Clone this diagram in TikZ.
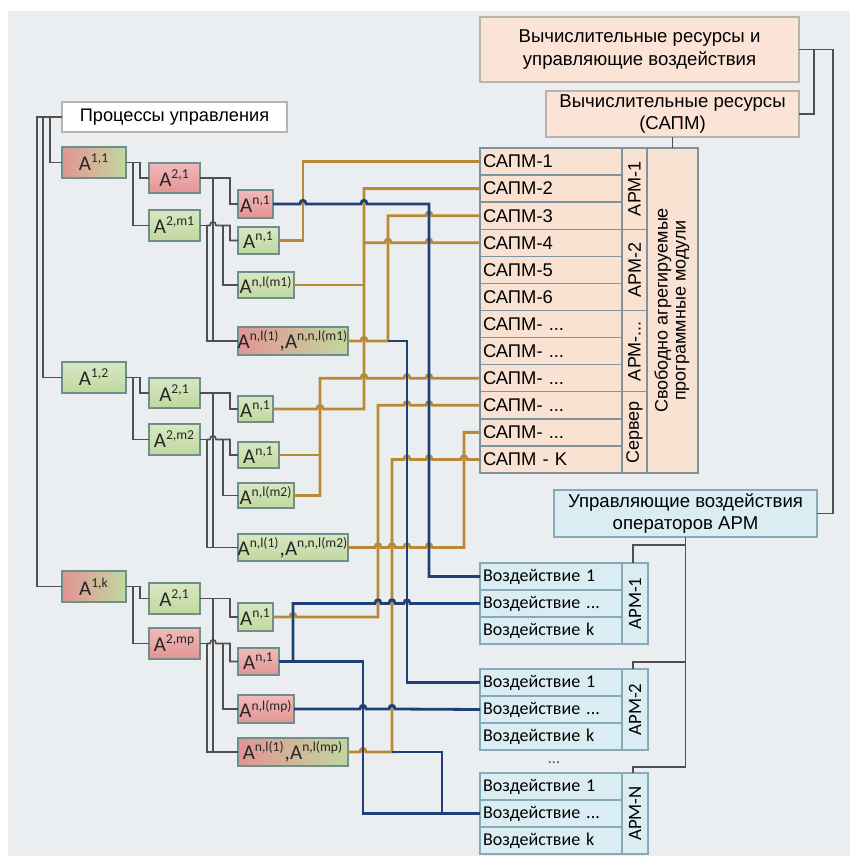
\documentclass[tikz,border=0pt]{standalone}
\usepackage{fontspec}
\setmainfont{Liberation Sans}
\newfontfamily\carfont{Carlito}
\usepackage{graphicx}
\usetikzlibrary{calc}
\definecolor{bg}{HTML}{EBEEF1}
\definecolor{peach}{HTML}{FBE4D5}
\definecolor{peachedge}{HTML}{B9B3AE}
\definecolor{cellfill}{HTML}{F9E2D2}
\definecolor{celledge}{HTML}{7F939C}
\definecolor{lblue}{HTML}{DAEDF3}
\definecolor{lblueedge}{HTML}{86AAB8}
\definecolor{aedge}{HTML}{6F8F8A}
\definecolor{grtop}{HTML}{D8E8C3}
\definecolor{grbot}{HTML}{C0D89E}
\definecolor{rdtop}{HTML}{F2BABA}
\definecolor{rdbot}{HTML}{E29494}
\definecolor{gold}{HTML}{B98A35}
\definecolor{navy}{HTML}{1F3F78}
\definecolor{wire}{HTML}{505050}

% small raised index after A
\newcommand\ix[1]{\textsuperscript{\fontsize{6.8}{7}\selectfont #1}}
% bridge over a vertical line #1 on a horizontal run at the height of #2
\newcommand\hop[2]{-- ($(#1 |- #2)+(-3,0)$) .. controls ($(#1 |- #2)+(-3,-5)$) and ($(#1 |- #2)+(3,-5)$) .. ($(#1 |- #2)+(3,0)$)}

\begin{document}
\begin{tikzpicture}[x=0.5pt,y=-0.5pt,
  every node/.style={inner sep=0pt,outer sep=0pt},
  hdr/.style={draw=peachedge,line width=0.9pt,fill=peach,align=center,font=\fontsize{9.3}{11.3}\selectfont},
  abox/.style={draw=aedge,line width=0.9pt,text=black!85,font=\carfont\fontsize{10.5}{11}\selectfont},
  gbox/.style={abox,top color=grtop,bottom color=grbot},
  rbox/.style={abox,top color=rdtop,bottom color=rdbot},
  mbox/.style={abox,left color=rdbot,right color=grbot},
  cell/.style={draw=celledge,line width=0.7pt,fill=cellfill,anchor=north west,text width=68pt,
    inner xsep=1.5pt,minimum height=13.54pt,font=\fontsize{9.2}{10}\selectfont},
  slab/.style={draw=celledge,line width=0.7pt,fill=cellfill,font=\fontsize{9}{10}\selectfont},
  vcell/.style={draw=lblueedge,line width=0.7pt,fill=lblue,anchor=north west,text width=68pt,
    inner xsep=1.5pt,minimum height=13.5pt,font=\carfont\fontsize{9}{10}\selectfont},
  vlab/.style={draw=lblueedge,line width=0.7pt,fill=lblue,minimum width=13pt,minimum height=40.5pt,
    font=\carfont\fontsize{9.4}{10}\selectfont},
  tree/.style={wire,line width=0.8pt},
  au/.style={gold,line width=1.4pt},
  cu/.style={navy,line width=1.4pt}]
\useasboundingbox (0,0) rectangle (850,856);
\fill[bg] (8,11) rectangle (850,856);

% process tree
\node[draw=peachedge,line width=0.9pt,fill=white,minimum width=112.5pt,minimum height=15pt,
  font=\fontsize{9.1}{11}\selectfont] (proc) at (174.5,117) {Процессы управления};

\node[mbox,minimum width=32pt,minimum height=15.5pt] (a11) at (94,162.5) {A\ix{1,1}};
\node[rbox,minimum width=25.5pt,minimum height=15pt] (a21) at (174.5,178) {A\ix{2,1}};
\node[gbox,minimum width=25.5pt,minimum height=15.5pt] (am1) at (174.5,225.5) {A\ix{2,m1}};
\node[rbox,minimum width=17.5pt,minimum height=14pt] (an1) at (255.5,204) {A\ix{n,1}};
\node[gbox,minimum width=20.5pt,minimum height=13.5pt] (ab1) at (258.5,240.5) {A\ix{n,1}};
\node[gbox,minimum width=28pt,minimum height=13pt] (al1) at (266,285) {A\ix{n,l(m1)}};
\node[mbox,minimum width=55pt,minimum height=14pt] (ac1) at (293,341) {A\ix{n,l(1)},A\ix{n,n,l(m1)}};

\node[gbox,minimum width=32pt,minimum height=15.5pt] (a12) at (94,377.5) {A\ix{1,2}};
\node[gbox,minimum width=25.5pt,minimum height=15pt] (a22) at (174.5,393) {A\ix{2,1}};
\node[gbox,minimum width=25.5pt,minimum height=15.5pt] (am2) at (174.5,439.5) {A\ix{2,m2}};
\node[gbox,minimum width=17.5pt,minimum height=13pt] (an2) at (255.5,409) {A\ix{n,1}};
\node[gbox,minimum width=20.5pt,minimum height=13pt] (ab2) at (258.5,455) {A\ix{n,1}};
\node[gbox,minimum width=28pt,minimum height=12.5pt] (al2) at (266,495.5) {A\ix{n,l(m2)}};
\node[gbox,minimum width=55pt,minimum height=13.5pt] (ac2) at (293,547.5) {A\ix{n,l(1)},A\ix{n,n,l(m2)}};

\node[mbox,minimum width=32pt,minimum height=15.5pt] (a13) at (94,586.5) {A\ix{1,k}};
\node[gbox,minimum width=25.5pt,minimum height=15.5pt] (a23) at (174.5,598.5) {A\ix{2,1}};
\node[rbox,minimum width=25.5pt,minimum height=15.5pt] (am3) at (174.5,643.5) {A\ix{2,mp}};
\node[gbox,minimum width=17.5pt,minimum height=14pt] (an3) at (255.5,617) {A\ix{n,1}};
\node[rbox,minimum width=20.5pt,minimum height=13.5pt] (ab3) at (258.5,661.5) {A\ix{n,1}};
\node[rbox,minimum width=28pt,minimum height=14pt] (al3) at (266,709) {A\ix{n,l(mp)}};
\node[mbox,minimum width=55pt,minimum height=14pt] (ac3) at (293,752) {A\ix{n,l(1)},A\ix{n,l(mp)}};

% vertical runs of the tree
\coordinate (tA) at (207,0);
\coordinate (tB) at (213,0);
\coordinate (tC) at (223,0);
\coordinate (tD) at (230,0);

\draw[tree] (proc.west) -- ++(-25,0) |- (a13.west);
\draw[tree] (proc.west) ++(-19,0) |- (a12.west);
\draw[tree] (proc.west) ++(-12,0) |- (a11.west);
\foreach \g in {1,2,3} {
  \draw[tree] (a1\g.east) -- ++(14,0) |- (a2\g.west);
  \draw[tree] (a1\g.east) ++(7,0) |- (am\g.west);
  \draw[tree] (a2\g.east) -- (a2\g.east -| tD) |- (an\g.west);
  \draw[tree] (a2\g.east -| tB) |- (ac\g.west);
  \draw[tree] (am\g.east) -- (am\g.east -| tA) |- (ac\g.west);
  \draw[tree] (am\g.east -| tA) \hop{tB}{am\g.east} -- (am\g.east -| tD) |- (ab\g.west);
  \draw[tree] (am\g.east -| tC) |- (al\g.west);
}

% resources
\node[hdr,minimum width=159.5pt,minimum height=32.5pt] (top) at (639.5,49.5)
  {Вычислительные ресурсы и\\управляющие воздействия};
\node[hdr,minimum width=126.5pt,minimum height=23pt] (sapm) at (672.5,114)
  {Вычислительные ресурсы\\(САПМ)};
\node[hdr,fill=lblue,draw=lblueedge,minimum width=131.5pt,minimum height=23.5pt] (upr) at (685.5,513.5)
  {Управляющие воздействия\\операторов АРМ};

\foreach \t [count=\i] in {САПМ-1,САПМ-2,САПМ-3,САПМ-4,САПМ-5,САПМ-6,САПМ- {...},САПМ- {...},
    САПМ- {...},САПМ- {...},САПМ- {...},САПМ - K}
  \node[cell] (s\i) at (480,{148+27.083*(\i-1)}) {\t};
\foreach \t [count=\i] in {АРМ-1,АРМ-2,АРМ-{...},Сервер}
  \node[slab,minimum width=12.5pt,minimum height=40.6pt] (sl\i) at (634.5,{188.6+81.25*(\i-1)}) {\rotatebox{90}{\t}};
\node[slab,minimum width=25.5pt,minimum height=162.5pt] (free) at (672.5,310.5)
  {\rotatebox{90}{\begin{tabular}{@{}c@{}}Свободно агрегируемые\\[-1pt]программные модули\end{tabular}}};

\foreach \t/\y in {1/563,2/669,N/773} {
  \foreach \r/\s in {1/1,2/{...},3/k}
    \node[vcell] (v\t\r) at (480,{\y+27*(\r-1)}) {Воздействие \s};
  \node[vlab] (vl\t) at (635,\y+40.5) {\rotatebox{90}{АРМ-\t}};
}
\node[font=\carfont\fontsize{8}{9}\selectfont,text=black!70] (gap) at (554,763) {...};

\draw[tree] (top.east) -- ++(15,0) |- (sapm.east);
\draw[tree] (top.east) -- ++(34,0) |- (upr.east);
\draw[tree] (sapm.south) -- (free.north -| sapm.south);
\foreach \t/\d in {1/18,2/7,N/6}
  \draw[tree] (upr.south) |- ($(vl\t.north)+(-2,-\d)$) -- ($(vl\t.north)+(-2,0)$);

% wiring buses
\coordinate (gA) at (303,0);
\coordinate (gB) at (364,0);
\coordinate (gC) at (388,0);
\coordinate (gD) at (320,0);
\coordinate (gE) at (378,0);
\coordinate (gF) at (392,0);
\coordinate (gG) at (464,0);
\coordinate (bA) at (407,0);
\coordinate (bB) at (429,0);
\coordinate (bC) at (293,0);
\coordinate (bD) at (363,0);
\coordinate (bE) at (442,0);

% modules -> САПМ
\draw[au] (ab1.east) -- (ab1.east -| gA) |- (s1.west);
\draw[au] (an2.east) \hop{gD}{an2.east} -- (an2.east -| gB) |- (s2.west);
\draw[au] (al1.east) -- (al1.east -| gB);
\draw[au] (gB |- s4.west) \hop{gC}{s4.west} \hop{bB}{s4.west} -- (s4.west);
\draw[au] (ac1.east) \hop{gB}{ac1.east} -- (ac1.east -| gC) -- (gC |- s3.west) \hop{bB}{s3.west} -- (s3.west);
\draw[au] (al2.east) -- (al2.east -| gD) -- (gD |- s9.west) \hop{gB}{s9.west} \hop{bA}{s9.west} \hop{bB}{s9.west} -- (s9.west);
\draw[au] (ab2.east) -- (ab2.east -| gD);
\draw[au] (an3.east) \hop{bC}{an3.east} -- (an3.east -| gE) -- (gE |- s10.west) \hop{bA}{s10.west} \hop{bB}{s10.west} -- (s10.west);
\draw[au] (ac2.east) \hop{gE}{ac2.east} \hop{gF}{ac2.east} \hop{bA}{ac2.east} \hop{bB}{ac2.east} -- (ac2.east -| gG) |- (s11.west);
\draw[au] (ac3.east) \hop{bD}{ac3.east} -- (ac3.east -| gF) -- (gF |- s12.west) \hop{bA}{s12.west} \hop{bB}{s12.west} \hop{gG}{s12.west} -- (s12.west);

% modules -> operator actions
\draw[cu] (an1.east) \hop{gA}{an1.east} \hop{gB}{an1.east} -- (an1.east -| bB) |- (v11.west);
\draw[cu] (ac1.east -| gC) -- (ac1.east -| bA) |- (v21.west);
\draw[cu] (ab3.east) -- (ab3.east -| bD) |- (vN2.west);
\draw[cu] (ab3.east -| bC) -- (bC |- v12.west) \hop{gE}{v12.west} \hop{gF}{v12.west} \hop{bA}{v12.west} -- (v12.west);
\draw[cu] (al3.east) \hop{bD}{al3.east} \hop{gF}{al3.east} -- (v22.west);
\draw[cu] (ac3.east -| gF) -- (ac3.east -| bE) |- (vN2.west);
\end{tikzpicture}
\end{document}
